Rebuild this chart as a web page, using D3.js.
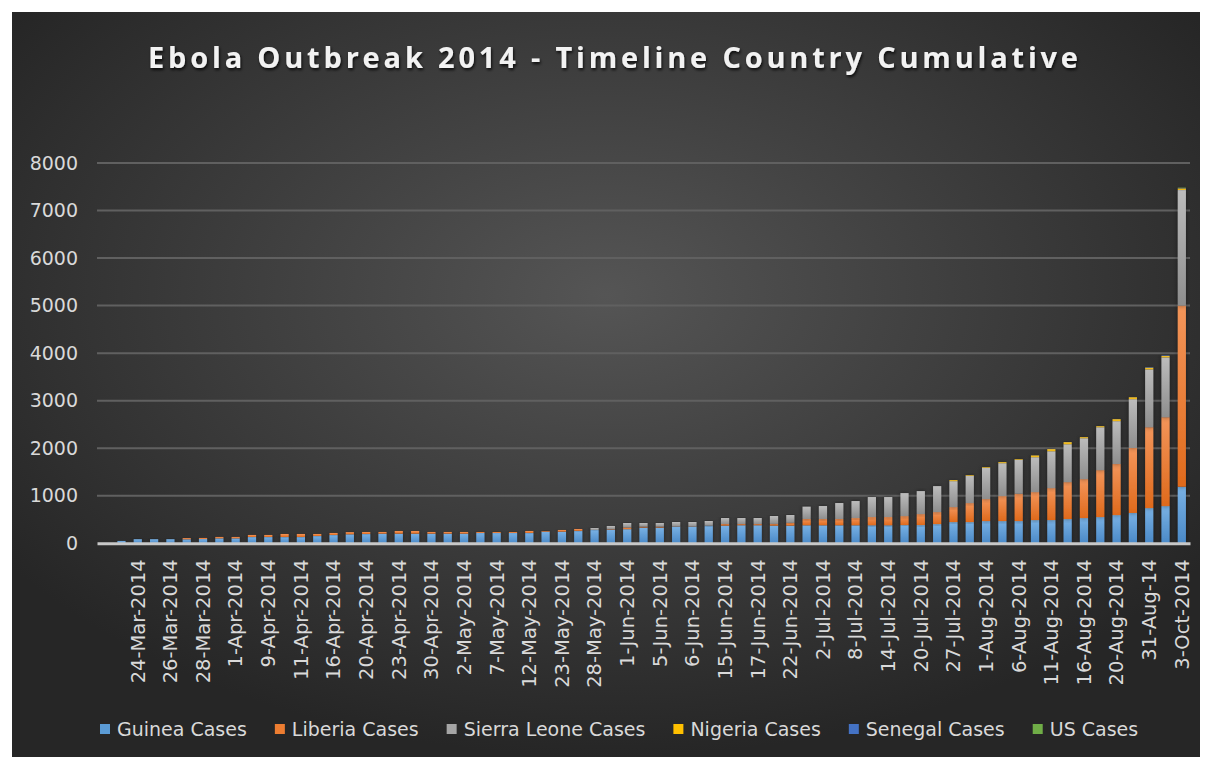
<!DOCTYPE html>
<html>
<head>
<meta charset="utf-8">
<script src="https://cdn.jsdelivr.net/npm/d3@7"></script>
<style>
body { margin: 0; background: #ffffff; }
svg text { font-family: "DejaVu Sans", sans-serif; }
</style>
</head>
<body>
<div id="chart"></div>
<script>
// categories (first one is an empty slot, odd ones are not labelled on the axis)
var dates = ["", "22-Mar-2014", "24-Mar-2014", "25-Mar-2014", "26-Mar-2014", "27-Mar-2014", "28-Mar-2014",
    "31-Mar-2014", "1-Apr-2014", "7-Apr-2014", "9-Apr-2014", "10-Apr-2014", "11-Apr-2014", "14-Apr-2014",
    "16-Apr-2014", "17-Apr-2014", "20-Apr-2014", "21-Apr-2014", "23-Apr-2014", "26-Apr-2014", "30-Apr-2014",
    "1-May-2014", "2-May-2014", "5-May-2014", "7-May-2014", "10-May-2014", "12-May-2014", "15-May-2014",
    "23-May-2014", "27-May-2014", "28-May-2014", "30-May-2014", "1-Jun-2014", "3-Jun-2014", "5-Jun-2014",
    "5-Jun-2014", "6-Jun-2014", "10-Jun-2014", "15-Jun-2014", "16-Jun-2014", "17-Jun-2014", "20-Jun-2014",
    "22-Jun-2014", "30-Jun-2014", "2-Jul-2014", "6-Jul-2014", "8-Jul-2014", "12-Jul-2014", "14-Jul-2014",
    "17-Jul-2014", "20-Jul-2014", "23-Jul-2014", "27-Jul-2014", "30-Jul-2014", "1-Aug-2014", "4-Aug-2014",
    "6-Aug-2014", "9-Aug-2014", "11-Aug-2014", "13-Aug-2014", "16-Aug-2014", "18-Aug-2014", "20-Aug-2014",
    "26-Aug-2014", "31-Aug-14", "14-Sep-2014", "3-Oct-2014"];

var guinea = [0, 49, 86, 86, 86, 85, 90, 105, 105, 133, 133, 133, 133, 154, 175, 190, 196, 203, 203, 203, 203,
    203, 203, 217, 217, 217, 217, 245, 245, 262, 280, 290, 298, 330, 330, 350, 350, 370, 372, 380, 380, 372,
    372, 380, 380, 380, 380, 380, 380, 384, 384, 405, 447, 447, 468, 468, 468, 489, 489, 510, 531, 552, 594,
    638, 741, 783, 1190];
var liberia = [0, 0, 0, 0, 0, 25, 22, 28, 28, 42, 42, 63, 63, 42, 42, 45, 42, 35, 56, 56, 35,
    35, 35, 21, 21, 21, 42, 14, 35, 39, 0, 10, 34, 20, 20, 5, 5, 2, 34, 26, 26, 36,
    58, 131, 131, 131, 152, 173, 173, 189, 231, 252, 315, 399, 462, 525, 574, 588, 672, 777, 819, 987, 1074,
    1367, 1701, 1869, 3810];
var sierraLeone = [0, 0, 0, 0, 0, 0, 0, 0, 0, 0, 0, 0, 0, 0, 0, 0, 0, 0, 0, 0, 0,
    0, 0, 0, 0, 0, 0, 0, 0, 0, 42, 64, 95, 77, 77, 93, 93, 97, 126, 126, 126, 166,
    165, 259, 273, 336, 357, 420, 420, 483, 483, 546, 546, 574, 658, 693, 714, 735, 777, 798, 861, 903, 903,
    1028, 1218, 1260, 2432];
var nigeria = [0, 0, 0, 0, 0, 0, 0, 0, 0, 0, 0, 0, 0, 0, 0, 0, 0, 0, 0, 0, 0,
    0, 0, 0, 0, 0, 0, 0, 0, 0, 0, 0, 0, 0, 0, 0, 0, 0, 0, 0, 0, 0,
    0, 0, 0, 0, 0, 0, 0, 0, 0, 0, 21, 14, 14, 21, 14, 35, 42, 42, 21, 21, 39,
    38, 35, 28, 34];
var senegal = [0, 0, 0, 0, 0, 0, 0, 0, 0, 0, 0, 0, 0, 0, 0, 0, 0, 0, 0, 0, 0,
    0, 0, 0, 0, 0, 0, 0, 0, 0, 0, 0, 0, 0, 0, 0, 0, 0, 0, 0, 0, 0,
    0, 0, 0, 0, 0, 0, 0, 0, 0, 0, 0, 0, 0, 0, 0, 0, 0, 0, 0, 0, 0,
    0, 10, 10, 6];
var us = [0, 0, 0, 0, 0, 0, 0, 0, 0, 0, 0, 0, 0, 0, 0, 0, 0, 0, 0, 0, 0,
    0, 0, 0, 0, 0, 0, 0, 0, 0, 0, 0, 0, 0, 0, 0, 0, 0, 0, 0, 0, 0,
    0, 0, 0, 0, 0, 0, 0, 0, 0, 0, 0, 0, 0, 0, 0, 0, 0, 0, 0, 0, 0,
    0, 0, 0, 8];

var seriesNames = ["Guinea Cases", "Liberia Cases", "Sierra Leone Cases", "Nigeria Cases", "Senegal Cases", "US Cases"];
var yTicks = [0, 1000, 2000, 3000, 4000, 5000, 6000, 7000, 8000];
var titleText = "Ebola Outbreak 2014 - Timeline Country Cumulative";

var width = 1207, height = 760;
var colors = ["#5b9bd5", "#ed7d31", "#a5a5a5", "#ffc000", "#4472c4", "#70ad47"];
var colorsLight = ["#79b1e4", "#f3955a", "#bcbcbc", "#ffd040", "#5f89d6", "#86c15e"];
var colorsDark = ["#4a89c7", "#df6a1c", "#8e8e8e", "#e8ac00", "#3761b0", "#5e9a39"];

var seriesValues = [guinea, liberia, sierraLeone, nigeria, senegal, us];

var rows = dates.map(function(d, i) {
    var row = { idx: i };
    seriesNames.forEach(function(s, k) { row[s] = seriesValues[k][i]; });
    return row;
});

var svg = d3.select("#chart")
    .append("svg")
    .attr("width", width)
    .attr("height", height);

var defs = svg.append("defs");

var bg = defs.append("radialGradient")
    .attr("id", "bg")
    .attr("cx", "50%").attr("cy", "38%").attr("r", "62%");
bg.append("stop").attr("offset", "0%").attr("stop-color", "#555555");
bg.append("stop").attr("offset", "100%").attr("stop-color", "#262626");

seriesNames.forEach(function(s, k) {
    var g = defs.append("linearGradient")
        .attr("id", "grad" + k)
        .attr("x1", 0).attr("y1", 0).attr("x2", 0).attr("y2", 1);
    g.append("stop").attr("offset", "0%").attr("stop-color", colorsLight[k]);
    g.append("stop").attr("offset", "100%").attr("stop-color", colorsDark[k]);
});

var shadow = defs.append("filter")
    .attr("id", "shadow")
    .attr("x", "-50%").attr("y", "-10%").attr("width", "200%").attr("height", "120%");
shadow.append("feDropShadow")
    .attr("dx", 0).attr("dy", 0).attr("stdDeviation", 2.5)
    .attr("flood-color", "#000").attr("flood-opacity", 0.45);

var titleShadow = defs.append("filter").attr("id", "tshadow");
titleShadow.append("feDropShadow")
    .attr("dx", 1).attr("dy", 2).attr("stdDeviation", 1.5)
    .attr("flood-color", "#000").attr("flood-opacity", 0.8);

// chart area
svg.append("rect")
    .attr("x", 12).attr("y", 12)
    .attr("width", 1188).attr("height", 745)
    .attr("fill", "url(#bg)");

svg.append("text")
    .attr("x", 613)
    .attr("y", 68)
    .attr("text-anchor", "middle")
    .attr("font-size", 29)
    .attr("font-weight", "bold")
    .attr("fill", "#f2f2f2")
    .attr("textLength", 930)
    .attr("lengthAdjust", "spacing")
    .attr("filter", "url(#tshadow)")
    .style("font-family", "'Open Sans', sans-serif")
    .text(titleText);

var x = d3.scaleBand()
    .domain(d3.range(dates.length))
    .range([97, 1190])
    .paddingInner(0.5)
    .paddingOuter(0.25);

var y = d3.scaleLinear()
    .domain([0, 8000])
    .range([543.3, 163]);

// gridlines
svg.append("g")
    .selectAll("line")
    .data(yTicks.slice(1))
    .enter()
    .append("line")
    .attr("x1", 97).attr("x2", 1190)
    .attr("y1", function(d) { return y(d); })
    .attr("y2", function(d) { return y(d); })
    .attr("stroke", "#606060")
    .attr("stroke-width", 2);

// y axis labels
var yAxis = svg.append("g")
    .attr("transform", "translate(88,0)")
    .call(d3.axisLeft(y).tickValues(yTicks).tickFormat(d3.format("d")).tickSize(0).tickPadding(10));
yAxis.select(".domain").remove();
yAxis.selectAll("text")
    .attr("fill", "#d9d9d9")
    .style("font-size", "19px")
    .style("font-family", "'DejaVu Sans', sans-serif");

var stacked = d3.stack().keys(seriesNames)(rows);

svg.append("g")
    .selectAll("g")
    .data(stacked)
    .enter()
    .append("g")
    .attr("fill", function(d, k) { return "url(#grad" + k + ")"; })
    .selectAll("rect")
    .data(function(d) { return d; })
    .enter()
    .filter(function(d) { return d[1] - d[0] > 0; })
    .append("rect")
    .attr("x", function(d) { return x(d.data.idx); })
    .attr("width", x.bandwidth())
    .attr("y", function(d) { return y(d[1]); })
    .attr("height", function(d) { return y(d[0]) - y(d[1]); })
    .attr("filter", "url(#shadow)");

// x axis
var xAxis = svg.append("g")
    .attr("transform", "translate(0,543.3)")
    .call(d3.axisBottom(x)
        .tickValues(d3.range(2, dates.length, 2))
        .tickFormat(function(i) { return dates[i]; })
        .tickSize(0));
xAxis.select(".domain")
    .attr("stroke", "#c8c8c8")
    .attr("stroke-width", 3);
xAxis.selectAll("text")
    .attr("fill", "#d9d9d9")
    .style("font-size", "19.5px")
    .style("font-family", "'DejaVu Sans', sans-serif")
    .attr("text-anchor", "end")
    .attr("transform", "translate(0,16) rotate(-90)")
    .attr("x", 0)
    .attr("y", 0)
    .attr("dy", "0.35em");

// legend
var legend = svg.append("g").attr("transform", "translate(0,729)");
var lx = 100;
seriesNames.forEach(function(s, k) {
    var item = legend.append("g").attr("transform", "translate(" + lx + ",0)");
    item.append("rect")
        .attr("x", 0).attr("y", -5)
        .attr("width", 10).attr("height", 10)
        .attr("fill", colors[k]);
    var t = item.append("text")
        .attr("x", 17).attr("y", 0)
        .attr("dy", "0.35em")
        .attr("font-size", 19)
        .attr("fill", "#d9d9d9")
        .text(s);
    lx += 17 + t.node().getComputedTextLength() + 28;
});
</script>
</body>
</html>
